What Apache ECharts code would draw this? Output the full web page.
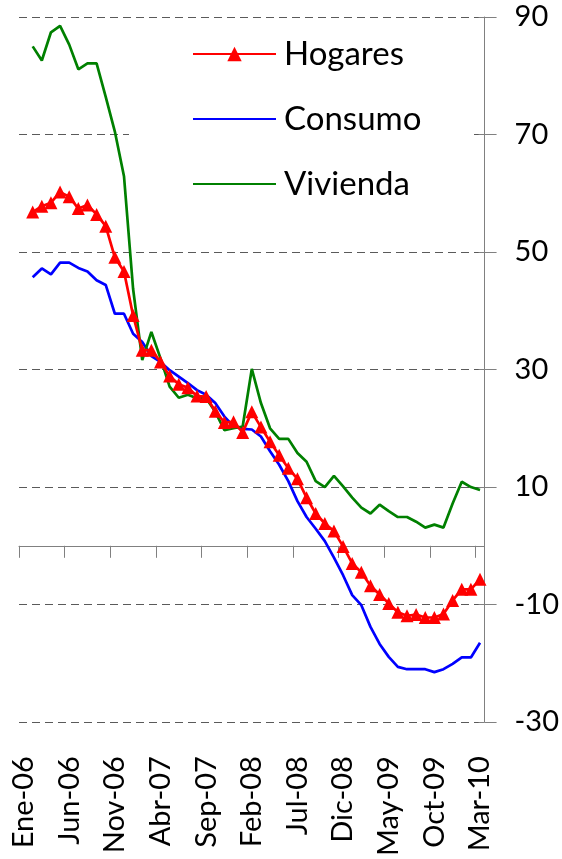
<!DOCTYPE html>
<html>
<head>
<meta charset="utf-8">
<script src="https://cdn.jsdelivr.net/npm/echarts@6/dist/echarts.min.js"></script>
<style>
html, body { margin: 0; padding: 0; background: #fff; }
#chart { width: 562px; height: 859px; }
</style>
</head>
<body>
<div id="chart"></div>
<script>
var months = ['Ene-06', 'Feb-06', 'Mar-06', 'Abr-06', 'May-06', 'Jun-06', 'Jul-06', 'Ago-06', 'Sep-06', 'Oct-06', 'Nov-06', 'Dic-06',
              'Ene-07', 'Feb-07', 'Mar-07', 'Abr-07', 'May-07', 'Jun-07', 'Jul-07', 'Ago-07', 'Sep-07', 'Oct-07', 'Nov-07', 'Dic-07',
              'Ene-08', 'Feb-08', 'Mar-08', 'Abr-08', 'May-08', 'Jun-08', 'Jul-08', 'Ago-08', 'Sep-08', 'Oct-08', 'Nov-08', 'Dic-08',
              'Ene-09', 'Feb-09', 'Mar-09', 'Abr-09', 'May-09', 'Jun-09', 'Jul-09', 'Ago-09', 'Sep-09', 'Oct-09', 'Nov-09', 'Dic-09',
              'Ene-10', 'Feb-10', 'Mar-10'];

var hogares = [null, 56.8, 57.8, 58.4, 60.2, 59.4, 57.4, 58.0, 56.4, 54.4, 49.1, 46.7,
               39.2, 33.3, 33.3, 31.3, 28.9, 27.5, 26.9, 25.5, 25.4, 22.9, 21.0, 21.1,
               19.3, 22.8, 20.2, 17.7, 15.4, 13.2, 11.4, 8.2, 5.5, 3.8, 2.5, -0.1,
               -3.0, -4.5, -6.8, -8.3, -9.8, -11.3, -11.9, -11.7, -12.2, -12.2, -11.6, -9.3,
               -7.4, -7.4, -5.7];

var consumo = [null, 45.7, 47.2, 46.2, 48.2, 48.2, 47.3, 46.7, 45.2, 44.4, 39.5, 39.5,
               36.1, 34.7, 32.3, 31.3, 29.9, 28.8, 27.7, 26.5, 25.7, 24.3, 22.0, 20.3,
               19.9, 19.8, 18.6, 16.1, 13.8, 11.0, 7.6, 4.9, 2.9, 0.8, -2.0, -5.0,
               -8.4, -10.1, -13.8, -16.7, -18.9, -20.6, -21.0, -21.0, -21.0, -21.5, -21.0, -20.1,
               -19.0, -19.0, -16.5];

var vivienda = [null, 85.0, 82.6, 87.4, 88.5, 85.3, 81.1, 82.1, 82.1, 76.4, 70.5, 62.9,
                43.7, 31.6, 36.4, 31.9, 27.1, 25.2, 25.7, 25.1, 25.1, 22.8, 19.7, 20.0,
                20.3, 30.1, 24.3, 20.0, 18.2, 18.2, 15.8, 14.3, 11.0, 10.0, 11.9, 10.1,
                8.2, 6.5, 5.5, 7.0, 5.9, 4.9, 4.9, 4.1, 3.1, 3.6, 3.1, 7.2,
                10.9, 10.0, 9.5];

var yMin = -30, yMax = 90, yStep = 20;

var font = 'Lato';
var axisGrey = '#808080';

var chart = echarts.init(document.getElementById('chart'));

var options = {
    animation: false,
    backgroundColor: '#fff',
    grid: { left: 19, right: 76, top: 17, bottom: 134, containLabel: false },
    legend: {
        orient: 'vertical',
        left: 129,
        top: 26,
        padding: [10, 50, 2, 63],
        backgroundColor: '#fff',
        itemWidth: 83,
        itemHeight: 18,
        itemGap: 29,
        data: [
            { name: 'Hogares' },
            { name: 'Consumo', itemStyle: { opacity: 0 } },
            { name: 'Vivienda', itemStyle: { opacity: 0 } }
        ],
        textStyle: { fontFamily: font, fontSize: 33, color: '#000', lineHeight: 36, padding: [0, 0, 0, 3] }
    },
    xAxis: [
        {
            type: 'category',
            data: months,
            boundaryGap: true,
            axisLine: { onZero: true, lineStyle: { color: axisGrey, width: 1 } },
            axisTick: { show: true, interval: 4, length: 12, lineStyle: { color: axisGrey } },
            axisLabel: { show: false },
            splitLine: { show: false }
        },
        {
            type: 'category',
            data: months,
            position: 'bottom',
            boundaryGap: true,
            axisLine: { show: false, onZero: false },
            axisTick: { show: false },
            axisLabel: { interval: 4, rotate: 90, margin: 34, fontFamily: font, fontSize: 29, color: '#000' },
            splitLine: { show: false }
        }
    ],
    yAxis: [
        {
            type: 'value',
            position: 'right',
            min: yMin, max: yMax, interval: yStep,
            axisLine: { show: true, onZero: false, lineStyle: { color: axisGrey, width: 1 } },
            axisTick: { show: true, length: 12, lineStyle: { color: axisGrey } },
            axisLabel: { margin: 30, fontFamily: font, fontSize: 29, color: '#000' },
            splitLine: { show: true, lineStyle: { color: '#5a5a5a', width: 1, type: [8, 5] } }
        },
        {
            type: 'value',
            position: 'right',
            min: yMin, max: yMax, interval: yStep,
            axisLine: { show: false },
            axisTick: { show: true, inside: true, length: 6, lineStyle: { color: axisGrey } },
            axisLabel: { show: false },
            splitLine: { show: false }
        }
    ],
    series: [
        {
            name: 'Consumo',
            type: 'line',
            data: consumo,
            symbol: 'none',
            lineStyle: { color: '#0000ff', width: 2.7 },
            itemStyle: { color: '#0000ff' },
            z: 2
        },
        {
            name: 'Vivienda',
            type: 'line',
            data: vivienda,
            symbol: 'none',
            lineStyle: { color: '#008000', width: 2.7 },
            itemStyle: { color: '#008000' },
            z: 2
        },
        {
            name: 'Hogares',
            type: 'line',
            data: hogares,
            symbol: 'triangle',
            symbolSize: 13,
            showAllSymbol: true,
            lineStyle: { color: '#ff0000', width: 2.7 },
            itemStyle: { color: '#ff0000' },
            z: 3
        }
    ]
};

chart.setOption(options);

window.onresize = function () {
    chart.resize();
};
</script>
</body>
</html>
